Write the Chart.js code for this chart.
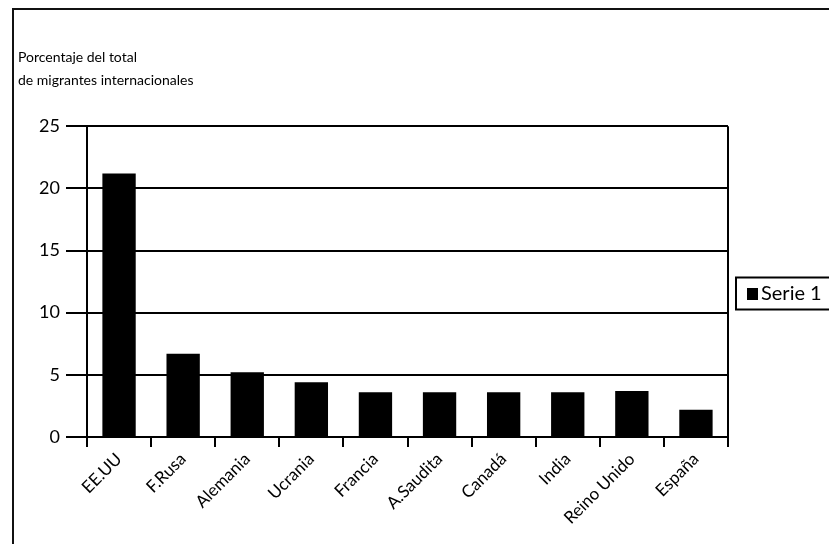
<!DOCTYPE html>
<html>
<head>
<meta charset="utf-8">
<script src="https://cdn.jsdelivr.net/npm/chart.js@4.4.0/dist/chart.umd.min.js"></script>
<style>
  html, body { margin: 0; padding: 0; background: #fff; overflow: hidden; }
  #wrap { position: relative; width: 829px; height: 544px; }
  #frame { position: absolute; left: 12px; top: 8px; right: -5px; bottom: -5px;
           border-top: 2px solid #111; border-left: 2px solid #111; pointer-events: none; }
  canvas { position: absolute; left: 0; top: 0; }
</style>
</head>
<body>
<div id="wrap">
  <canvas id="c" width="829" height="544"></canvas>
  <div id="frame"></div>
</div>
<script>
const categories = ['EE.UU', 'F.Rusa', 'Alemania', 'Ucrania', 'Francia', 'A.Saudita', 'Canadá', 'India', 'Reino Unido', 'España'];
const serie1 = [21.2, 6.7, 5.2, 4.4, 3.6, 3.6, 3.6, 3.6, 3.7, 2.2];
const seriesName = 'Serie 1';
const titleLines = ['Porcentaje del total', 'de migrantes internacionales'];
const yTicks = [0, 5, 10, 15, 20, 25];

const FONT = 'Lato, "Open Sans", sans-serif';

const framePlugin = {
  id: 'framePlugin',
  afterDatasetsDraw(chart) {
    const { ctx, chartArea } = chart;
    ctx.save();
    ctx.strokeStyle = '#000';
    ctx.lineWidth = 2;
    ctx.beginPath();
    ctx.moveTo(chartArea.right, chartArea.top);
    ctx.lineTo(chartArea.right, chartArea.bottom);
    ctx.stroke();
    // legend box
    const ds = chart.data.datasets[0];
    const lx = chartArea.right + 8, ly = 277.5, lw = 110, lh = 32;
    ctx.lineWidth = 2;
    ctx.strokeRect(lx, ly, lw, lh);
    ctx.fillStyle = ds.backgroundColor;
    ctx.fillRect(lx + 11, ly + 10.5, 11, 12);
    ctx.fillStyle = '#000';
    ctx.font = '20px ' + FONT;
    ctx.textBaseline = 'middle';
    ctx.textAlign = 'left';
    ctx.fillText(ds.label, lx + 25, ly + lh / 2);
    ctx.restore();
  }
};

new Chart(document.getElementById('c'), {
  type: 'bar',
  data: {
    labels: categories,
    datasets: [{
      label: seriesName,
      data: serie1,
      backgroundColor: '#000',
      borderWidth: 0,
      barPercentage: 0.52,
      categoryPercentage: 1.0
    }]
  },
  options: {
    responsive: false,
    animation: false,
    devicePixelRatio: 1,
    layout: { padding: { left: 18, right: 101, top: 0, bottom: 0 } },
    plugins: {
      legend: { display: false },
      tooltip: { enabled: false },
      title: {
        display: true,
        text: titleLines,
        align: 'start',
        color: '#000',
        font: { family: FONT, size: 14, weight: 'normal', lineHeight: 1.65 },
        padding: { top: 46, bottom: 34 }
      }
    },
    scales: {
      x: {
        grid: { display: true, offset: true, drawOnChartArea: false, drawTicks: true, tickLength: 10, color: '#000', lineWidth: 2 },
        border: { display: true, color: '#000', width: 2 },
        ticks: { color: '#000', font: { family: FONT, size: 17 }, minRotation: 45, maxRotation: 45, padding: 2 },
        afterFit(scale) { scale.height = 107; }
      },
      y: {
        min: 0, max: 25,
        afterBuildTicks(scale) { scale.ticks = yTicks.map(v => ({ value: v })); },
        grid: { color: '#000', lineWidth: 2, drawTicks: true, tickLength: 21 },
        border: { display: true, color: '#000', width: 2 },
        ticks: { color: '#000', font: { family: FONT, size: 18 }, padding: 6 },
        afterFit(scale) { scale.width = 69; }
      }
    }
  },
  plugins: [framePlugin]
});
</script>
</body>
</html>
